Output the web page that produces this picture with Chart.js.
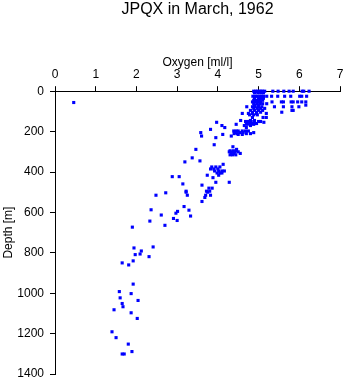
<!DOCTYPE html>
<html>
<head>
<meta charset="utf-8">
<script src="https://cdn.jsdelivr.net/npm/chart.js@4"></script>
<style>
  html, body { margin: 0; padding: 0; background: #fff; }
  #wrap { width: 345px; height: 384px; }
</style>
</head>
<body>
<div id="wrap"><canvas id="profileChart" width="345" height="384"></canvas></div>
<script>
// Oxygen readings grouped by sample depth (m)
const depthLevels = [
    0, 8, 25, 35, 45, 53, 56, 62, 69, 77, 85, 95, 104, 110, 117, 130,
    145, 150, 154, 160, 164, 170, 180, 189, 197, 205, 210, 214, 222, 230,
    265, 275, 288, 295, 300, 308, 315, 330, 345, 350, 362, 375, 385, 395,
    405, 416, 423, 428, 451, 459, 465, 480, 495, 500, 503, 515, 526, 546,
    571, 587, 589, 595, 604, 613, 618, 630, 640, 643, 664, 673, 771, 776,
    791, 806, 809, 819, 840, 850, 860, 955, 992, 1002, 1023, 1036, 1051,
    1067, 1082, 1097, 1125, 1191, 1220, 1252, 1289, 1301
];

const oxygenAtLevel = [
    [4.88, 4.93, 4.97, 5.02, 5.06, 5.1, 5.15, 5.35, 5.48, 5.62, 5.75, 5.85, 6.07, 6.11, 6.24],
    [4.9, 4.98, 5.05, 5.12],
    [4.86, 4.92, 4.97, 5.03, 5.08, 5.12, 5.2, 5.32, 5.47, 5.64, 5.79, 6.01, 6.06, 6.18],
    [4.9, 5.0, 5.05, 5.12],
    [4.88, 4.95, 5.02, 5.1],
    [4.85, 4.92, 4.98, 5.05, 5.33, 5.56, 5.61, 5.8, 5.85, 5.96, 6.06, 6.16],
    [0.46],
    [4.88, 4.96, 5.03, 5.1, 5.2],
    [4.9, 5.0, 6.16],
    [4.71, 4.85, 4.92, 5.0, 5.08, 5.39, 5.61, 5.82, 5.99],
    [4.88, 4.97, 5.05, 5.15],
    [4.8, 4.9, 5.0, 5.1, 5.82, 5.85],
    [4.85, 4.95, 5.05, 5.57],
    [4.6, 4.75, 4.85, 4.95, 5.19],
    [4.78, 4.88, 4.97],
    [4.85, 5.11, 5.19],
    [4.56, 4.8, 4.9],
    [4.68, 4.75, 4.82, 4.9, 5.0, 5.05],
    [3.97, 5.13],
    [4.7, 4.78, 4.85, 4.95],
    [4.45, 4.72, 4.88],
    [4.1, 4.65, 4.8],
    [4.17, 4.7],
    [3.82],
    [4.39, 4.45, 4.5, 4.6, 4.68, 4.75],
    [3.58, 4.42, 4.55, 4.62, 4.88],
    [4.4, 4.48, 4.7, 4.8],
    [4.12, 4.5, 4.6],
    [3.6, 4.33],
    [3.95],
    [3.91],
    [4.37],
    [3.46, 4.46],
    [4.3, 4.38, 4.45],
    [4.28, 4.35, 4.42, 4.5],
    [4.33, 4.4, 4.55],
    [4.3, 4.36, 4.44],
    [3.37],
    [3.56],
    [3.19],
    [4.13],
    [3.85, 3.95, 4.05],
    [3.82, 3.9, 4.0],
    [3.92, 4.02, 4.1, 4.16],
    [3.98, 4.05, 4.1],
    [3.74, 4.02],
    [2.88, 3.05],
    [3.88],
    [3.95, 4.28],
    [3.14],
    [3.61],
    [3.78, 3.86],
    [3.22, 3.72, 3.8],
    [3.22, 3.75],
    [2.72],
    [2.48, 3.25, 3.7, 3.82],
    [3.68],
    [3.61],
    [3.17],
    [2.36],
    [3.29],
    [3.01],
    [2.97],
    [2.61],
    [3.33],
    [2.91],
    [3.0],
    [2.33],
    [2.7],
    [1.9],
    [2.41],
    [1.94],
    [2.12],
    [2.09],
    [1.97],
    [2.31],
    [1.92],
    [1.65],
    [1.81],
    [1.92],
    [1.58],
    [1.87],
    [1.6],
    [2.04],
    [1.65],
    [1.67],
    [1.45],
    [1.87],
    [2.02],
    [1.4],
    [1.5],
    [1.8],
    [1.89],
    [1.65, 1.7]
];

const oxygenRange = [0, 7];
const depthRange = [0, 1400];

const points = [];
depthLevels.forEach((d, i) => {
    oxygenAtLevel[i].forEach(o => points.push({ x: o, y: d }));
});

const axisFont = { family: 'Liberation Sans, Arial, sans-serif', size: 12 };

new Chart(document.getElementById('profileChart'), {
    type: 'scatter',
    data: {
        datasets: [{
            label: 'Oxygen',
            data: points,
            backgroundColor: '#0000ff',
            borderWidth: 0,
            pointStyle: 'rect',
            pointRadius: 2.2,
            clip: false
        }]
    },
    options: {
        responsive: false,
        animation: false,
        layout: { padding: { left: 0, right: 5, top: 0, bottom: 10 } },
        plugins: {
            legend: { display: false },
            tooltip: { enabled: false },
            title: {
                display: true,
                text: 'JPQX in March, 1962',
                fullSize: false,
                color: '#000',
                font: { family: 'Liberation Sans, Arial, sans-serif', size: 16, weight: 'normal' },
                padding: { top: 0, bottom: 1 }
            }
        },
        scales: {
            x: {
                type: 'linear',
                position: 'top',
                min: oxygenRange[0],
                max: oxygenRange[1],
                afterFit: s => { s.height = 71; s.paddingLeft = 0; s.paddingRight = 0; },
                ticks: { stepSize: 1, color: '#000', font: axisFont, padding: 4, maxRotation: 0 },
                grid: { drawOnChartArea: false, drawTicks: true, tickLength: 5, color: '#000' },
                border: { display: true, color: '#000', width: 1 },
                title: { display: true, text: 'Oxygen [ml/l]', color: '#000', font: axisFont, padding: { top: 35, bottom: 0 } }
            },
            y: {
                type: 'linear',
                reverse: true,
                min: depthRange[0],
                max: depthRange[1],
                afterFit: s => { s.width = 55; s.paddingTop = 0; s.paddingBottom = 0; },
                ticks: { stepSize: 200, color: '#000', font: axisFont, padding: 6, callback: v => String(v) },
                grid: { drawOnChartArea: false, drawTicks: true, tickLength: 5, color: '#000' },
                border: { display: true, color: '#000', width: 1 },
                title: { display: true, text: 'Depth [m]', color: '#000', font: axisFont, padding: { top: 1, bottom: 0 } }
            }
        }
    }
});
</script>
</body>
</html>
